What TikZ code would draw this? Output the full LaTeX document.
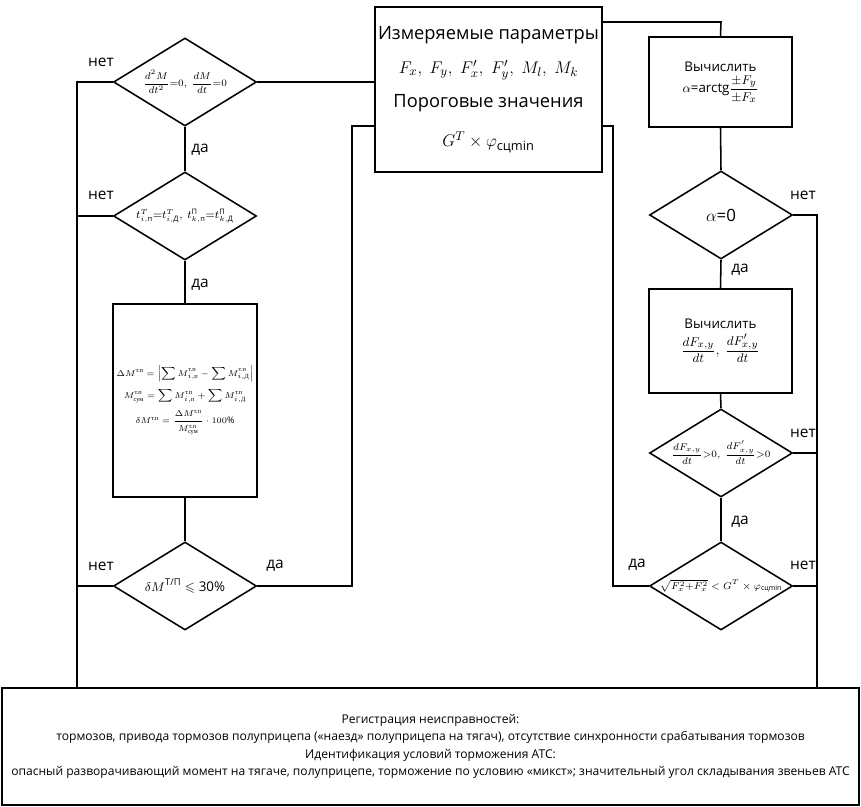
\documentclass[tikz,border=0pt]{standalone}
\usepackage{amsmath,amssymb}
\usepackage{fontspec}
\setmainfont{Open Sans}
\newfontfamily\serifcyr{Liberation Serif}
\usetikzlibrary{shapes.geometric,positioning,calc}

\newcommand{\tp}{\text{\serifcyr т.п}}

\begin{document}
\begin{tikzpicture}[x=0.025cm, y=-0.025cm,
    blk/.style={draw, line width=1.1pt, inner sep=0pt, align=center},
    dec/.style={draw, line width=1.1pt, diamond, minimum width=3.575cm, minimum height=2.2cm, inner sep=0pt},
    ln/.style={line width=1.1pt},
    lbl/.style={font=\fontsize{11}{13}\selectfont, inner sep=1pt}
]
\useasboundingbox (0,0) rectangle (861,807);

% measured values
\node[blk, minimum width=5.675cm, minimum height=4.125cm, font=\fontsize{13}{24}\selectfont] (par) at (488.5,89.5)
    {Измеряемые параметры\\ $F_x,\ F_y,\ F'_x,\ F'_y,\ M_l,\ M_k$\\ Пороговые значения\\[4pt] $G^T\times\varphi_{\text{сцmin}}$};

% left column
\node[dec, label={[font=\fontsize{7.2}{8}\selectfont]center:$\dfrac{d^2M}{dt^2}{=}0,\ \dfrac{dM}{dt}{=}0$}] (d1) at (185,82) {};
\node[dec, label={[font=\fontsize{7.6}{9}\selectfont]center:$t^T_{i,\text{п}}{=}t^T_{i,\text{Д}},\ t^{\text{П}}_{k,\text{п}}{=}t^{\text{П}}_{k,\text{Д}}$}] (d2) at (185,216) {};
\node[blk, minimum width=3.6cm, minimum height=4.825cm, font=\fontsize{6.4}{8}\selectfont] (cm) at (185,400.5)
    {$\Delta M^{\tp}=\left|\displaystyle\sum\nolimits M^{\tp}_{i,\text{\serifcyr п}}-\sum\nolimits M^{\tp}_{i,\text{\serifcyr Д}}\right|$\\[4pt]
     $M^{\tp}_{\text{\serifcyr сум}}=\displaystyle\sum\nolimits M^{\tp}_{i,\text{\serifcyr п}}+\sum\nolimits M^{\tp}_{i,\text{\serifcyr Д}}$\\[4pt]
     $\delta M^{\tp}=\dfrac{\Delta M^{\tp}}{M^{\tp}_{\text{\serifcyr сум}}}\cdot 100\%$};
\node[dec, label={[font=\fontsize{9.5}{11}\selectfont]center:$\delta M^{\text{Т/П}}\leqslant$ 30\%}] (d3) at (185,586) {};

% right column
\node[blk, minimum width=3.575cm, minimum height=2.25cm, font=\fontsize{9.5}{12}\selectfont] (ca) at (720.5,82)
    {Вычислить\\[2pt] $\alpha$=arctg$\dfrac{\pm F_y}{\pm F_x}$};
\node[dec, label={[font=\fontsize{12}{14}\selectfont]center:$\alpha$=0}] (ra) at (721,215) {};
\node[blk, minimum width=3.575cm, minimum height=2.6cm, font=\fontsize{9.5}{12}\selectfont] (cd) at (720.5,341)
    {Вычислить\\[3pt] $\dfrac{dF_{x,y}}{dt},\ \dfrac{dF'_{x,y}}{dt}$};
\node[dec, label={[font=\fontsize{7}{8}\selectfont]center:$\dfrac{dF_{x,y}}{dt}{>}0,\ \dfrac{dF'_{x,y}}{dt}{>}0$}] (rd) at (721,453) {};
\node[dec, label={[font=\fontsize{7.2}{9}\selectfont]center:$\sqrt{F_x^2{+}F_x^2}<G^T\times\varphi_{\text{сцmin}}$}] (rf) at (721,586) {};

% result
\node[blk, minimum width=21.425cm, minimum height=2.925cm, font=\fontsize{8.6}{12.4}\selectfont] (reg) at (430.5,746.5)
    {Регистрация неисправностей:\\
     тормозов, привода тормозов полуприцепа («наезд» полуприцепа на тягач), отсутствие синхронности срабатывания тормозов\\
     Идентификация условий торможения АТС:\\
     опасный разворачивающий момент на тягаче, полуприцепе, торможение по условию «микст»; значительный угол складывания звеньев АТС};

\coordinate (lb) at (77,688);
\coordinate (rb) at (817,688);
\coordinate (pl) at (352,126);
\coordinate (pr) at (613,126);
\coordinate (pt) at (721,22);

\draw[ln] (d1.east) -- (d1.east -| par.west);
\draw[ln] (d1.south) -- (d2.north);
\draw[ln] (d2.south) -- (cm.north);
\draw[ln] (cm.south) -- (d3.north);
\draw[ln] (d1.west) -| (lb);
\draw[ln] (d2.west) -- (d2.west -| lb);
\draw[ln] (d3.west) -- (d3.west -| lb);
\draw[ln] (d3.east) -| (pl) -- (pl -| par.west);

\draw[ln] (pt -| par.east) -- (pt) -- (ca.north);
\draw[ln] (ca.south) -- (ra.north);
\draw[ln] (ra.south) -- (cd.north);
\draw[ln] (cd.south) -- (rd.north);
\draw[ln] (rd.south) -- (rf.north);
\draw[ln] (ra.east) -| (rb);
\draw[ln] (rd.east) -- (rd.east -| rb);
\draw[ln] (rf.east) -- (rf.east -| rb);
\draw[ln] (rf.west) -| (pr) -- (pr -| par.east);

% branch labels
\node[lbl] (n1) at (101,62) {нет};
\node[lbl] (y1) at (200,150) {да};
\node[lbl] (n2) at (101,195) {нет};
\node[lbl] (y2) at (200,285) {да};
\node[lbl] (n3) at (101,566) {нет};
\node[lbl] (y3) at (275,566) {да};
\node[lbl] (n4) at (803,195) {нет};
\node[lbl] (y4) at (740,270) {да};
\node[lbl] (n5) at (803,433) {нет};
\node[lbl] (y5) at (740,522) {да};
\node[lbl] (y6) at (637,565) {да};
\node[lbl] (n6) at (803,565) {нет};
\end{tikzpicture}
\end{document}
